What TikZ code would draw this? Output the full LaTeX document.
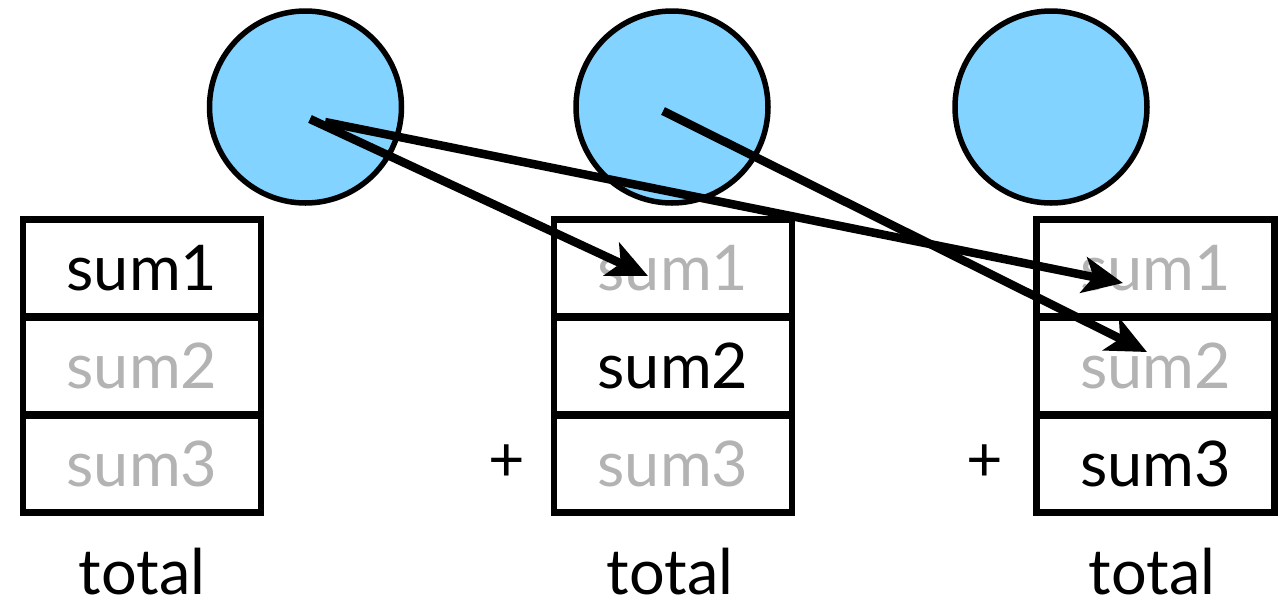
\documentclass[tikz,border=0pt]{standalone}
\usepackage{fontspec}
\setmainfont{Lato}
\usetikzlibrary{arrows.meta}
\definecolor{ballblue}{HTML}{82D3FF}
\definecolor{faded}{HTML}{B3B3B3}
\newcommand{\bigtext}{\fontsize{63}{66}\selectfont}
\tikzset{
  ball/.style={circle, draw=black, line width=5.5pt, fill=ballblue, minimum size=192pt, inner sep=0pt},
  cell/.style={rectangle, draw=black, line width=6.5pt, minimum width=238pt, minimum height=97pt, inner sep=0pt,
    font=\bigtext},
  dim/.style={text=faded},
  lbl/.style={inner sep=0pt, font=\bigtext},
  link/.style={line width=8.5pt, -{Stealth[length=40pt,width=36pt,inset=10pt]}},
}
\begin{document}
\begin{tikzpicture}[x=1pt,y=-1pt]
\useasboundingbox (0,0) rectangle (1286,606);

% threads
\node[ball] (c1) at (305.5,107) {};
\node[ball] (c2) at (672,107) {};
\node[ball] (c3) at (1051,107) {};

% left column of partial sums
\node[cell] (L1) at (142,268) {sum1};
\node[cell,dim] (L2) at (142,366) {sum2};
\node[cell,dim] (L3) at (142,464) {sum3};

% middle column
\node[cell,dim] (M1) at (673,268) {sum1};
\node[cell] (M2) at (673,366) {sum2};
\node[cell,dim] (M3) at (673,464) {sum3};

% right column
\node[cell,dim] (R1) at (1155.5,268) {sum1};
\node[cell,dim] (R2) at (1155.5,366) {sum2};
\node[cell] (R3) at (1155.5,464) {sum3};

% plus signs and totals
\node[lbl] (p2) at (507,463) {+};
\node[lbl] (p3) at (985,463) {+};
\node[lbl, anchor=base] (t1) at (142,594) {total};
\node[lbl, anchor=base] (t2) at (670,594) {total};
\node[lbl, anchor=base] (t3) at (1152,594) {total};

% arrow anchors
\coordinate (s1) at (310,119);
\coordinate (s2) at (325,122);
\coordinate (s3) at (663,111);
\coordinate (e1) at (648,276);
\coordinate (e2) at (1123,283);
\coordinate (e3) at (1147,352);

% arrows
\draw[link] (s1) -- (e1);
\draw[link] (s2) -- (e2);
\draw[link] (s3) -- (e3);
\end{tikzpicture}
\end{document}
